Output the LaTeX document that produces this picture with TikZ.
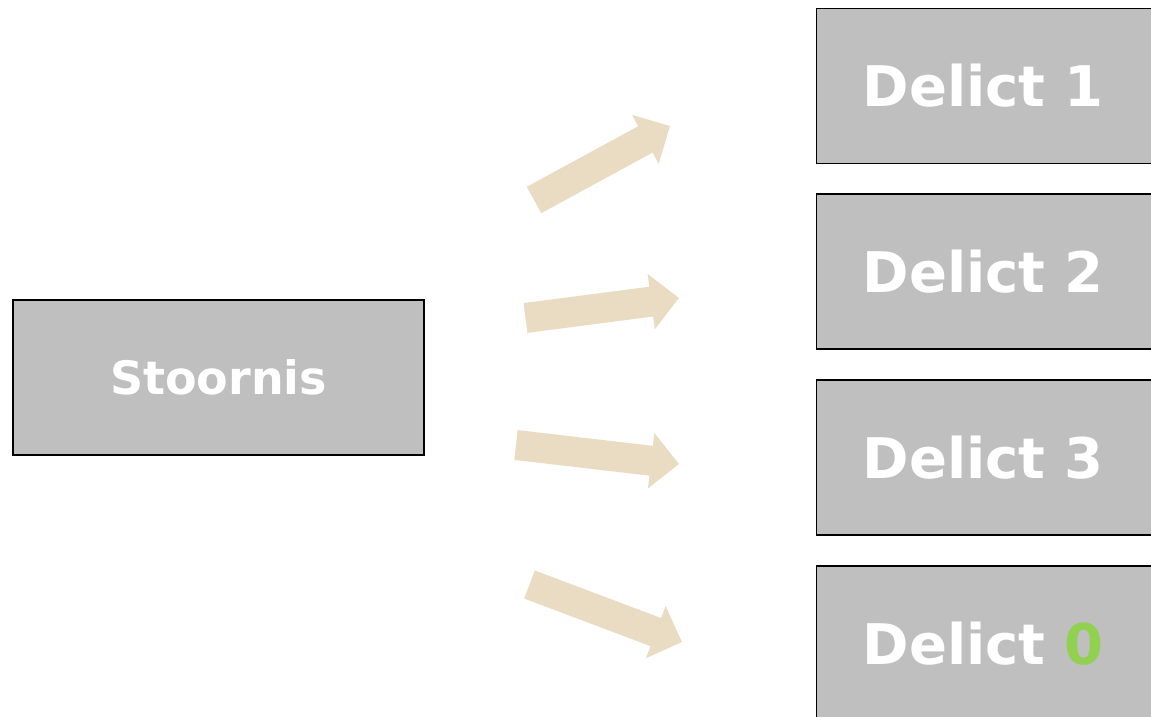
\documentclass[tikz,border=0pt]{standalone}
\usepackage{fontspec}
\setmainfont{DejaVu Sans}
\usetikzlibrary{arrows.meta}
\definecolor{boxgray}{HTML}{BFBFBF}
\definecolor{arrowtan}{HTML}{E9DCC2}
\definecolor{zerogreen}{HTML}{92D050}
\tikzset{
  box/.style={draw=black, line width=1.3pt, fill=boxgray, rectangle,
    text=white, font=\bfseries\fontsize{56}{60}\selectfont},
  srcbox/.style={box, minimum width=411pt, minimum height=155pt,
    font=\bfseries\fontsize{46}{52}\selectfont},
  delictbox/.style={box, minimum width=344pt, minimum height=155pt,
    inner xsep=46pt, text width=252pt, align=left, anchor=west},
  fatarrow/.style={draw=arrowtan, line width=30pt, line cap=butt,
    -{Triangle[width=54pt, length=28pt]}}
}
\begin{document}
\begin{tikzpicture}[x=1pt, y=1pt]
  \useasboundingbox (0,0) rectangle (1151,717);
  \fill[white] (0,0) rectangle (1151,717);

  % source box
  \node[srcbox] (stoornis) at (218.5,339.5) {Stoornis};

  % outcome boxes on the right
  \node[delictbox] (d1) at (816,631) {Delict 1};
  \node[delictbox] (d2) at (816,445.5) {Delict 2};
  \node[delictbox] (d3) at (816,259.5) {Delict 3};
  \node[delictbox] (d0) at (816,73.5) {Delict {\color{zerogreen}0}};

  % arrow end points
  \coordinate (t1) at (534,517);   \coordinate (h1) at (670,591);
  \coordinate (t2) at (525.5,399); \coordinate (h2) at (679,419);
  \coordinate (t3) at (516,272);   \coordinate (h3) at (679,253);
  \coordinate (t4) at (529.5,132.5); \coordinate (h4) at (682,75);

  \draw[fatarrow] (t1) -- (h1);
  \draw[fatarrow] (t2) -- (h2);
  \draw[fatarrow] (t3) -- (h3);
  \draw[fatarrow] (t4) -- (h4);
\end{tikzpicture}
\end{document}
